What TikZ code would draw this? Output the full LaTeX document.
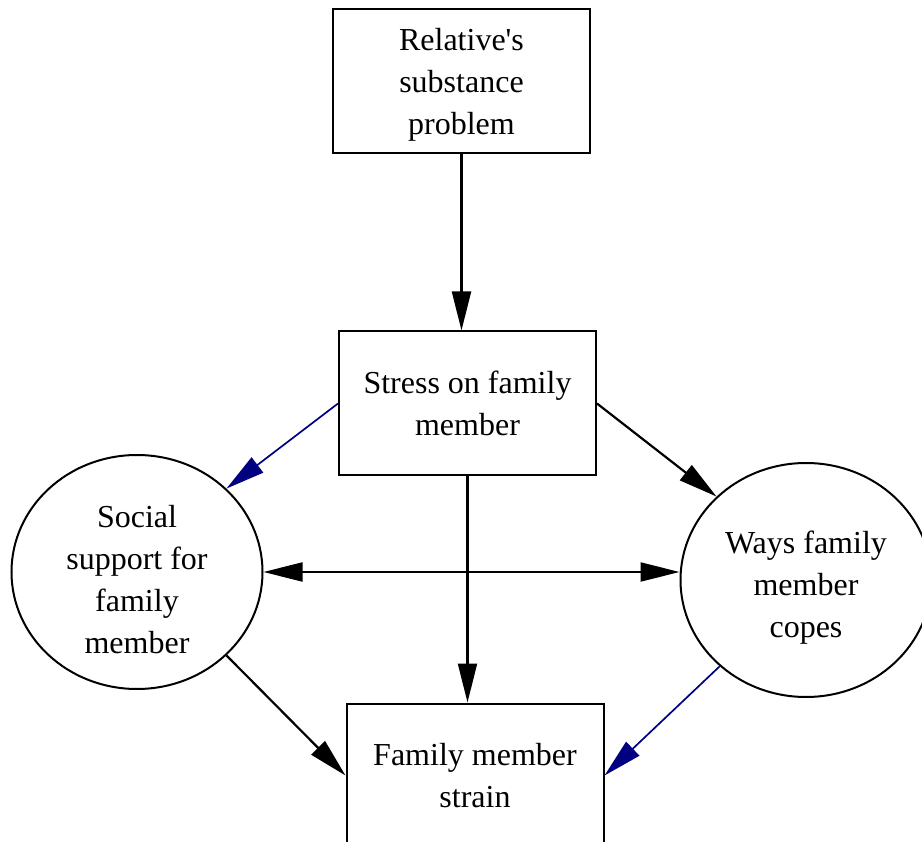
\documentclass[tikz,border=0pt]{standalone}
\usepackage{fontspec}
\setmainfont{Liberation Serif}[Ligatures=TeXOff]
\usepackage{tikz}
\usetikzlibrary{shapes.geometric,arrows.meta}
\definecolor{navyline}{RGB}{0,0,128}
\newcommand{\topgap}{\rule{0pt}{37pt}}
\tikzset{
	box/.style={draw,line width=2pt,minimum width=257pt,minimum height=144pt,inner sep=0pt,align=center,font=\fontsize{32}{42}\selectfont},
	bubble/.style={draw,ellipse,line width=2pt,minimum width=251pt,minimum height=234pt,inner sep=0pt,align=center,font=\fontsize{32}{42}\selectfont},
	link/.style={line width=2.2pt,->},
	bluelink/.style={link,navyline,line width=1.7pt}
}
\begin{document}
\begin{tikzpicture}[x=1pt,y=-1pt,>={Triangle[length=39pt,width=19pt]}]
	\clip (0,0) rectangle (922,842);
	\node[box] (relative) at (461.5,81.5) {\rule{0pt}{28pt}Relative's\\substance\\problem};
	\node[box] (stress) at (467.5,403.5) {Stress on family\\member};
	\node[box] (strain) at (475,775.5) {Family member\\strain};
	\node[bubble] (social) at (137,572) {\topgap Social\\support for\\family\\member};
	\node[bubble] (ways) at (806,580) {\topgap Ways family\\member\\copes};
	\draw[link] (relative.south) -- (relative.south |- stress.north);
	\draw[bluelink] (stress.west) -- (social.43);
	\draw[link] (stress.east) -- (ways.137);
	\draw[link] (stress.south) -- (stress.south |- strain.north);
	\draw[link,<->] (social.east) -- (social.east -| ways.west);
	\draw[link] (social.-43) -- (strain.west);
	\draw[bluelink] (ways.-135) -- (strain.east);
\end{tikzpicture}
\end{document}
